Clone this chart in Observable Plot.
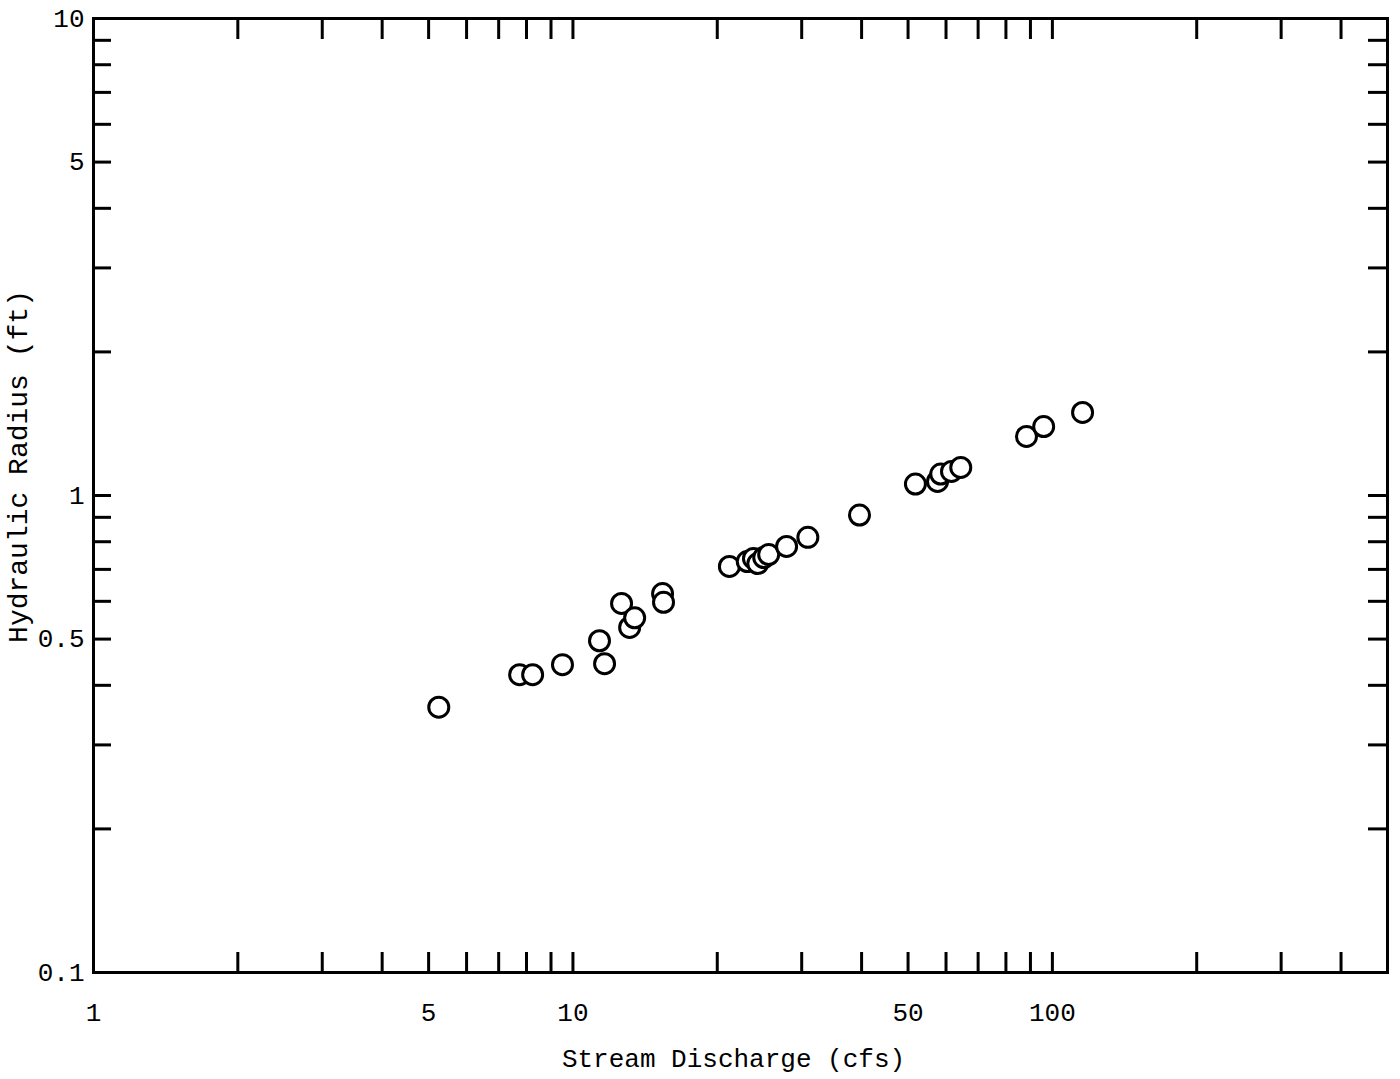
<!DOCTYPE html>
<html>
<head>
<meta charset="utf-8">
<script src="https://cdn.jsdelivr.net/npm/d3@7"></script>
<script src="https://cdn.jsdelivr.net/npm/@observablehq/plot@0.6"></script>
<style>
  body { margin: 0; background: #fff; }
  #chart svg { display: block; }
</style>
</head>
<body>
<div id="chart"></div>
<script>
// Stream discharge (cfs) and hydraulic radius (ft)
const discharge = [5.25, 7.74, 8.24, 9.51, 11.36, 11.64, 12.63, 13.13, 13.45, 15.38, 15.45,
                   21.2, 23.1, 23.8, 24.3, 25.0, 25.6, 27.9, 30.9, 39.6,
                   51.8, 57.6, 58.5, 61.6, 64.4, 88.3, 95.9, 115.6];
const radius    = [0.36, 0.421, 0.421, 0.442, 0.496, 0.444, 0.594, 0.529, 0.554, 0.623, 0.597,
                   0.71, 0.727, 0.738, 0.72, 0.741, 0.752, 0.782, 0.817, 0.91,
                   1.057, 1.07, 1.109, 1.123, 1.145, 1.33, 1.395, 1.493];

const xTicks = [2, 3, 4, 5, 6, 7, 8, 9, 10, 20, 30, 40, 50, 60, 70, 80, 90, 100, 200, 300, 400];
const yTicks = [0.2, 0.3, 0.4, 0.5, 0.6, 0.7, 0.8, 0.9, 1, 2, 3, 4, 5, 6, 7, 8, 9];
const xTickLabels = [1, 5, 10, 50, 100];
const yTickLabels = [0.1, 0.5, 1, 5, 10];
const xTitle = "Stream Discharge (cfs)";
const yTitle = "Hydraulic Radius (ft)";

const points = discharge.map((d, i) => ({discharge: d, radius: radius[i]}));
const font = "'Liberation Mono', 'Courier New', monospace";

const chart = Plot.plot({
  width: 1400,
  height: 1079,
  marginLeft: 93,
  marginRight: 13,
  marginTop: 18,
  marginBottom: 107,
  style: {fontFamily: font, fontSize: "26px", background: "#fff", color: "#000"},
  x: {type: "log", domain: [1, 500]},
  y: {type: "log", domain: [0.1, 10]},
  marks: [
    // inward ticks on all four sides
    Plot.axisX(xTicks, {anchor: "bottom", tickSize: -20, strokeWidth: 3, tickFormat: () => "", label: null}),
    Plot.axisX(xTicks, {anchor: "top", tickSize: -20, strokeWidth: 3, tickFormat: () => "", label: null}),
    Plot.axisY(yTicks, {anchor: "left", tickSize: -18, strokeWidth: 3, tickFormat: () => "", label: null}),
    Plot.axisY(yTicks, {anchor: "right", tickSize: -20, strokeWidth: 3, tickFormat: () => "", label: null}),
    // tick labels
    Plot.axisX(xTickLabels, {anchor: "bottom", tickSize: 0, tickPadding: 30, tickFormat: d => String(d), label: null, fontSize: 26}),
    Plot.axisY(yTickLabels, {anchor: "left", tickSize: 0, tickPadding: 9, tickFormat: d => String(d), label: null, fontSize: 26}),
    Plot.frame({stroke: "#000", strokeWidth: 3}),
    // axis titles
    Plot.text([xTitle], {text: d => d, frameAnchor: "bottom", dy: 86, dx: -7, textAnchor: "middle", lineAnchor: "middle", fontSize: 26}),
    Plot.text([yTitle], {text: d => d, frameAnchor: "left", dx: -75, dy: -29, rotate: -90, textAnchor: "middle", lineAnchor: "middle", fontSize: 28}),
    // data
    Plot.dot(points, {x: "discharge", y: "radius", r: 10, stroke: "#000", strokeWidth: 3, fill: "#fff"})
  ]
});
document.getElementById("chart").append(chart);
</script>
</body>
</html>
